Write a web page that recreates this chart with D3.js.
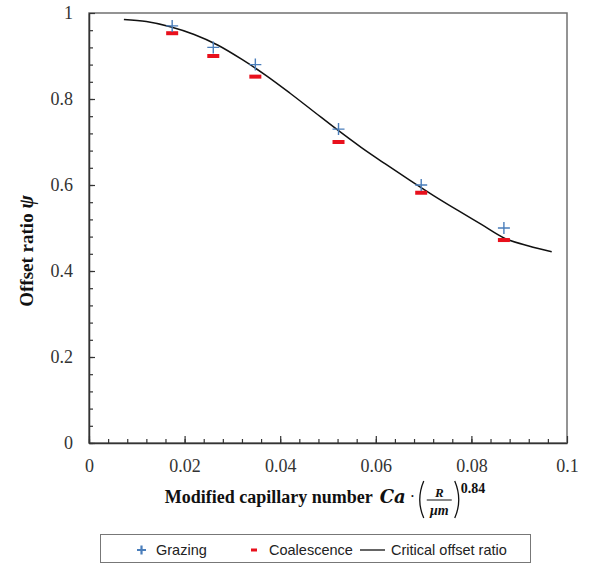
<!DOCTYPE html>
<html>
<head>
<meta charset="utf-8">
<script src="https://cdn.jsdelivr.net/npm/d3@7"></script>
<style>
  body { margin: 0; background: #fff; }
  svg { display: block; }
</style>
</head>
<body>
<div id="chart"></div>
<script>
// Data
var caValues = [0.0174, 0.026, 0.0348, 0.0522, 0.0695, 0.0868];
var grazing = [0.97, 0.92, 0.88, 0.73, 0.60, 0.50];
var coalescence = [0.953, 0.90, 0.852, 0.70, 0.582, 0.472];

var curveX = [0.0073, 0.012, 0.017, 0.022, 0.027, 0.032, 0.037, 0.042, 0.047, 0.052, 0.057, 0.062, 0.067, 0.072, 0.077, 0.082, 0.087, 0.092, 0.0968];
var curveY = [0.985, 0.980, 0.968, 0.950, 0.925, 0.892, 0.855, 0.814, 0.771, 0.728, 0.687, 0.649, 0.612, 0.576, 0.542, 0.509, 0.476, 0.458, 0.445];

var xTicks = [0, 0.02, 0.04, 0.06, 0.08, 0.1];
var yTicks = [0, 0.2, 0.4, 0.6, 0.8, 1];
var xTickLabels = ["0", "0.02", "0.04", "0.06", "0.08", "0.1"];
var yTickLabels = ["0", "0.2", "0.4", "0.6", "0.8", "1"];

var legendLabels = ["Grazing", "Coalescence", "Critical offset ratio"];

var W = 592, H = 564;
var margin = { top: 13, right: 25, bottom: 121, left: 89 },
  width = W - margin.left - margin.right,
  height = H - margin.top - margin.bottom;

var serif = "Liberation Serif";
var sans = "Liberation Sans";
var blue = "#4a7ebb", red = "#e8101c";

var svg = d3.select("#chart")
  .append("svg")
  .attr("width", W)
  .attr("height", H);

var g = svg.append("g")
  .attr("transform", "translate(" + margin.left + "," + margin.top + ")");

var x = d3.scaleLinear().domain([0, 0.1]).range([0, width]);
var y = d3.scaleLinear().domain([0, 1]).range([height, 0]);

// frame (top/right)
g.append("rect")
  .attr("width", width).attr("height", height)
  .attr("fill", "none")
  .attr("stroke", "#707070")
  .attr("stroke-width", 1.5);

// minor ticks
g.append("g")
  .attr("transform", "translate(0," + height + ")")
  .call(d3.axisBottom(x).tickValues(d3.range(0, 0.1, 0.004)).tickSize(-4).tickFormat(""))
  .call(function (a) { a.select(".domain").remove(); a.selectAll("line").attr("stroke", "#333").attr("stroke-width", 1.2); });
g.append("g")
  .call(d3.axisLeft(y).tickValues(d3.range(0, 1, 0.04)).tickSize(-4).tickFormat(""))
  .call(function (a) { a.select(".domain").remove(); a.selectAll("line").attr("stroke", "#333").attr("stroke-width", 1.2); });

// major axes
var xAxis = g.append("g")
  .attr("transform", "translate(0," + height + ")")
  .call(d3.axisBottom(x).tickValues(xTicks).tickSize(-7).tickSizeOuter(0).tickPadding(16)
    .tickFormat(function (d, i) { return xTickLabels[i]; }));
var yAxis = g.append("g")
  .call(d3.axisLeft(y).tickValues(yTicks).tickSize(-6).tickSizeOuter(0).tickPadding(16)
    .tickFormat(function (d, i) { return yTickLabels[i]; }));

[xAxis, yAxis].forEach(function (a) {
  a.attr("font-family", serif).attr("font-size", 18);
  a.select(".domain").attr("stroke", "#333").attr("stroke-width", 1.5);
  a.selectAll("line").attr("stroke", "#333").attr("stroke-width", 1.2);
  a.selectAll("text").style("font-family", serif).style("font-size", "18px").attr("fill", "#333");
});

// critical offset ratio curve
var curveData = curveX.map(function (d, i) { return [d, curveY[i]]; });
g.append("path")
  .datum(curveData)
  .attr("fill", "none")
  .attr("stroke", "#111")
  .attr("stroke-width", 1.5)
  .attr("d", d3.line()
    .x(function (d) { return x(d[0]); })
    .y(function (d) { return y(d[1]); })
    .curve(d3.curveMonotoneX));

// coalescence dashes
g.selectAll(".coal")
  .data(caValues)
  .enter().append("rect")
  .attr("x", function (d) { return x(d) - 6; })
  .attr("y", function (d, i) { return y(coalescence[i]) - 2; })
  .attr("width", 12).attr("height", 4)
  .attr("fill", red);

// grazing crosses
g.selectAll(".graz")
  .data(caValues)
  .enter().append("path")
  .attr("d", function (d, i) {
    var cx = x(d), cy = y(grazing[i]), s = 6;
    return "M" + (cx - s) + "," + cy + "H" + (cx + s) + "M" + cx + "," + (cy - s) + "V" + (cy + s);
  })
  .attr("stroke", blue)
  .attr("stroke-width", 1.4)
  .attr("fill", "none");

// Y axis title
var yt = svg.append("text")
  .attr("transform", "translate(33,251) rotate(-90)")
  .attr("text-anchor", "middle")
  .style("font-family", serif)
  .attr("font-weight", "bold")
  .attr("font-size", 19)
  .attr("fill", "#111");
yt.append("tspan").text("Offset ratio ");
yt.append("tspan").attr("font-style", "italic").attr("font-size", 20).text("ψ");

// X axis title, built piece by piece
var xt = svg.append("g");
var base = 503, cursor = 0;
var t1 = xt.append("text").attr("x", 0).attr("y", base)
  .style("font-family", serif).attr("font-weight", "bold").attr("font-size", 18).attr("fill", "#111")
  .text("Modified capillary number");
cursor = t1.node().getComputedTextLength() + 7;
var t2 = xt.append("text").attr("x", cursor).attr("y", base)
  .style("font-family", "DejaVu Serif").attr("font-weight", "bold").attr("font-style", "italic").attr("font-size", 18).attr("fill", "#111")
  .text("Ca");
cursor += t2.node().getComputedTextLength() + 4;
xt.append("text").attr("x", cursor).attr("y", base - 1)
  .style("font-family", serif).attr("font-size", 16).attr("fill", "#111").text("·");
cursor += 8;
// left paren
xt.append("path")
  .attr("d", "M" + (cursor + 6) + "," + (base - 22) + "Q" + (cursor - 2) + "," + (base - 3) + " " + (cursor + 6) + "," + (base + 15))
  .attr("fill", "none").attr("stroke", "#111").attr("stroke-width", 1.3);
cursor += 9;
var fracW = 25;
xt.append("line")
  .attr("x1", cursor).attr("x2", cursor + fracW)
  .attr("y1", base - 3).attr("y2", base - 3)
  .attr("stroke", "#111").attr("stroke-width", 1);
xt.append("text").attr("x", cursor + fracW / 2).attr("y", base - 6)
  .attr("text-anchor", "middle")
  .style("font-family", serif).attr("font-style", "italic").attr("font-weight", "bold").attr("font-size", 13).attr("fill", "#111").text("R");
xt.append("text").attr("x", cursor + fracW / 2).attr("y", base + 12)
  .attr("text-anchor", "middle")
  .style("font-family", serif).attr("font-style", "italic").attr("font-weight", "bold").attr("font-size", 14).attr("fill", "#111").text("μm");
cursor += fracW + 3;
xt.append("path")
  .attr("d", "M" + cursor + "," + (base - 22) + "Q" + (cursor + 8) + "," + (base - 3) + " " + cursor + "," + (base + 15))
  .attr("fill", "none").attr("stroke", "#111").attr("stroke-width", 1.3);
cursor += 6;
var t3 = xt.append("text").attr("x", cursor).attr("y", base - 10)
  .style("font-family", serif).attr("font-weight", "bold").attr("font-size", 14).attr("fill", "#111").text("0.84");
cursor += t3.node().getComputedTextLength();
xt.attr("transform", "translate(" + (325 - cursor / 2) + ",0)");

// Legend
var leg = svg.append("g");
leg.append("rect")
  .attr("x", 100.5).attr("y", 534.5)
  .attr("width", 430).attr("height", 28)
  .attr("fill", "#fff")
  .attr("stroke", "#777").attr("stroke-width", 1);
var ly = 550;
leg.append("path")
  .attr("d", "M137," + ly + "H146M141.5," + (ly - 4.5) + "V" + (ly + 4.5))
  .attr("stroke", blue).attr("stroke-width", 2.2);
leg.append("rect")
  .attr("x", 251).attr("y", ly - 1.5).attr("width", 6).attr("height", 3)
  .attr("fill", red);
leg.append("line")
  .attr("x1", 360).attr("x2", 385).attr("y1", ly).attr("y2", ly)
  .attr("stroke", "#111").attr("stroke-width", 1.3);
var legX = [156, 269, 391];
leg.selectAll(".lt")
  .data(legendLabels)
  .enter().append("text")
  .attr("x", function (d, i) { return legX[i]; })
  .attr("y", ly + 5)
  .style("font-family", sans)
  .attr("font-size", 14.5)
  .attr("fill", "#222")
  .text(function (d) { return d; });
</script>
</body>
</html>
